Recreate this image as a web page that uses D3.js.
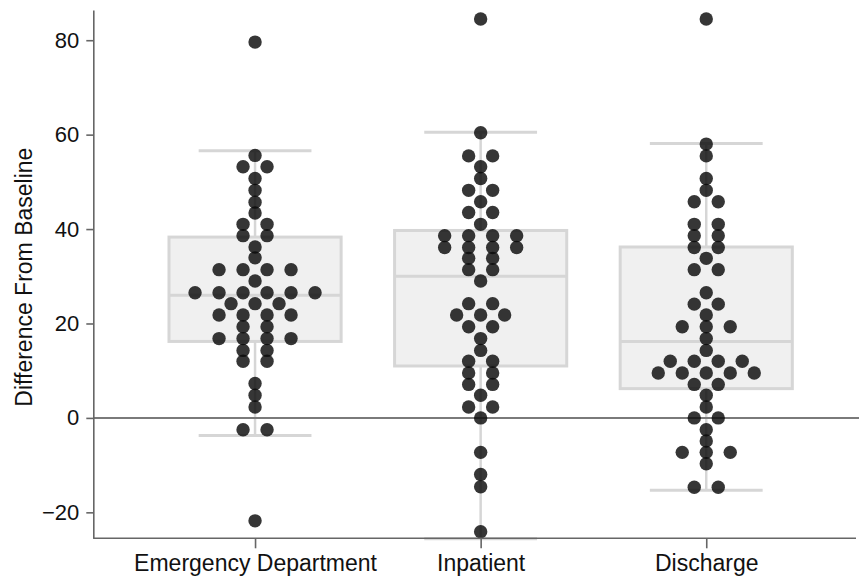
<!DOCTYPE html>
<html>
<head>
<meta charset="utf-8">
<script src="https://cdn.jsdelivr.net/npm/d3@7/dist/d3.min.js"></script>
<style>
  html, body { margin: 0; padding: 0; background: #fff; }
  svg { display: block; font-family: "Liberation Sans", Arial, Helvetica, sans-serif; }
</style>
</head>
<body>
<svg id="chart" width="859" height="577"></svg>
<script>
// ---- data ----
const categories = ["Emergency Department", "Inpatient", "Discharge"];

const edValues = [
  79.6, 55.6, 53.2, 53.2, 50.7, 48.2, 45.7, 43.4, 41.0, 41.0, 38.6, 38.6,
  36.2, 33.9, 31.4, 31.4, 31.4, 31.4, 29.0,
  26.5, 26.5, 26.5, 26.5, 26.5, 26.5, 24.2, 24.2, 24.2,
  21.8, 21.8, 21.8, 21.8, 19.3, 19.3, 16.8, 16.8, 16.8, 16.8,
  14.3, 14.3, 12.0, 12.0, 7.3, 4.8, 2.3, -2.5, -2.5, -21.8
];
const inpatientValues = [
  84.5, 60.4, 55.5, 55.5, 53.2, 50.7, 48.2, 48.2, 45.8, 43.5, 43.5, 41.0,
  38.6, 38.6, 38.6, 38.6, 36.1, 36.1, 36.1, 36.1, 33.8, 33.8, 31.4, 31.4,
  29.0, 24.2, 24.2, 21.8, 21.8, 21.8, 19.3, 19.3, 16.8, 14.3, 12.0, 12.0,
  9.5, 9.5, 7.1, 7.1, 4.8, 2.3, 2.3, 0, -7.3, -12.0, -14.6, -24.1
];
const dischargeValues = [
  84.5, 58.0, 55.5, 50.7, 48.2, 45.8, 45.8, 41.0, 41.0, 38.6, 38.6, 36.1, 36.1,
  33.8, 31.4, 31.4, 26.5, 24.1, 24.1, 21.8, 19.3, 19.3, 19.3, 16.8, 14.3,
  12.0, 12.0, 12.0, 12.0, 9.5, 9.5, 9.5, 9.5, 9.5, 7.1, 7.1, 4.8, 2.3,
  0, 0, -2.5, -4.9, -7.3, -7.3, -7.3, -9.7, -14.7, -14.7
];
const seriesValues = [edValues, inpatientValues, dischargeValues];

const boxQ1 = [16.2, 11.0, 6.2];
const boxMedian = [26.0, 30.0, 16.2];
const boxQ3 = [38.3, 39.7, 36.2];
const whiskerLow = [-3.7, -25.6, -15.3];
const whiskerHigh = [56.6, 60.5, 58.1];

const yTicks = [-20, 0, 20, 40, 60, 80];
const yTitle = "Difference From Baseline";

// ---- layout ----
const svg = d3.select("#chart");
const axisX = 93.3, axisBottom = 538.3, axisTop = 10;

const y = d3.scaleLinear().domain([-25.5, 86.4]).range([axisBottom, axisTop]);
const x = d3.scalePoint().domain(categories).range([axisX, 868]).padding(0.717);
const boxW = x.step() * 0.763;
const capW = x.step() * 0.5;
const dotR = 6.7;
const dotGap = 24;

const lightGray = "#d6d6d6";

// whiskers + boxes
categories.forEach((c, i) => {
  const cx = x(c);
  const g = svg.append("g");
  g.append("line")
    .attr("x1", cx).attr("x2", cx)
    .attr("y1", y(whiskerLow[i])).attr("y2", y(whiskerHigh[i]))
    .attr("stroke", lightGray).attr("stroke-width", 2.5);
  [whiskerLow[i], whiskerHigh[i]].forEach(v => {
    g.append("line")
      .attr("x1", cx - capW / 2).attr("x2", cx + capW / 2)
      .attr("y1", y(v)).attr("y2", y(v))
      .attr("stroke", lightGray).attr("stroke-width", 3);
  });
  g.append("rect")
    .attr("x", cx - boxW / 2).attr("width", boxW)
    .attr("y", y(boxQ3[i])).attr("height", y(boxQ1[i]) - y(boxQ3[i]))
    .attr("fill", "#f0f0f0").attr("stroke", lightGray).attr("stroke-width", 3);
  g.append("line")
    .attr("x1", cx - boxW / 2).attr("x2", cx + boxW / 2)
    .attr("y1", y(boxMedian[i])).attr("y2", y(boxMedian[i]))
    .attr("stroke", lightGray).attr("stroke-width", 3);
});

// zero reference line
svg.append("line")
  .attr("x1", axisX).attr("x2", 859)
  .attr("y1", y(0)).attr("y2", y(0))
  .attr("stroke", "#7a7a7a").attr("stroke-width", 2);

// dots: values with equal value are spread horizontally
categories.forEach((c, i) => {
  const counts = d3.rollup(seriesValues[i], v => v.length, d => d);
  const seen = new Map();
  const pts = seriesValues[i].map(v => {
    const n = counts.get(v);
    const k = seen.get(v) || 0;
    seen.set(v, k + 1);
    return { v, off: (k - (n - 1) / 2) * dotGap };
  });
  svg.append("g").selectAll("circle").data(pts).join("circle")
    .attr("cx", d => x(c) + d.off)
    .attr("cy", d => y(d.v))
    .attr("r", dotR)
    .attr("fill", "#0a0a0a")
    .attr("fill-opacity", 0.82);
});

// y axis
const yAxis = svg.append("g")
  .attr("transform", `translate(${axisX},0)`)
  .call(d3.axisLeft(y).tickValues(yTicks).tickSize(7).tickSizeOuter(0).tickPadding(7));
yAxis.select(".domain").attr("stroke", "#666").attr("stroke-width", 1.6);
yAxis.selectAll(".tick line").attr("stroke", "#666").attr("stroke-width", 1.6);
yAxis.selectAll(".tick text").attr("font-size", 22).attr("fill", "#111")
  .attr("font-family", "'Liberation Sans', Arial, sans-serif");

// x axis
const xAxis = svg.append("g")
  .attr("transform", `translate(0,${axisBottom})`)
  .call(d3.axisBottom(x).tickSize(10).tickSizeOuter(0).tickPadding(6));
xAxis.select(".domain").remove();
xAxis.append("line")
  .attr("x1", axisX).attr("x2", 856).attr("y1", 0).attr("y2", 0)
  .attr("stroke", "#666").attr("stroke-width", 1.6);
xAxis.selectAll(".tick line").attr("stroke", "#666").attr("stroke-width", 1.6);
xAxis.selectAll(".tick text").attr("font-size", 23).attr("fill", "#111")
  .attr("font-family", "'Liberation Sans', Arial, sans-serif");

// y title
svg.append("text")
  .attr("transform", `translate(32,${(axisTop + axisBottom) / 2 + 3}) rotate(-90)`)
  .attr("text-anchor", "middle")
  .attr("font-size", 23)
  .attr("fill", "#111")
  .text(yTitle);
</script>
</body>
</html>
